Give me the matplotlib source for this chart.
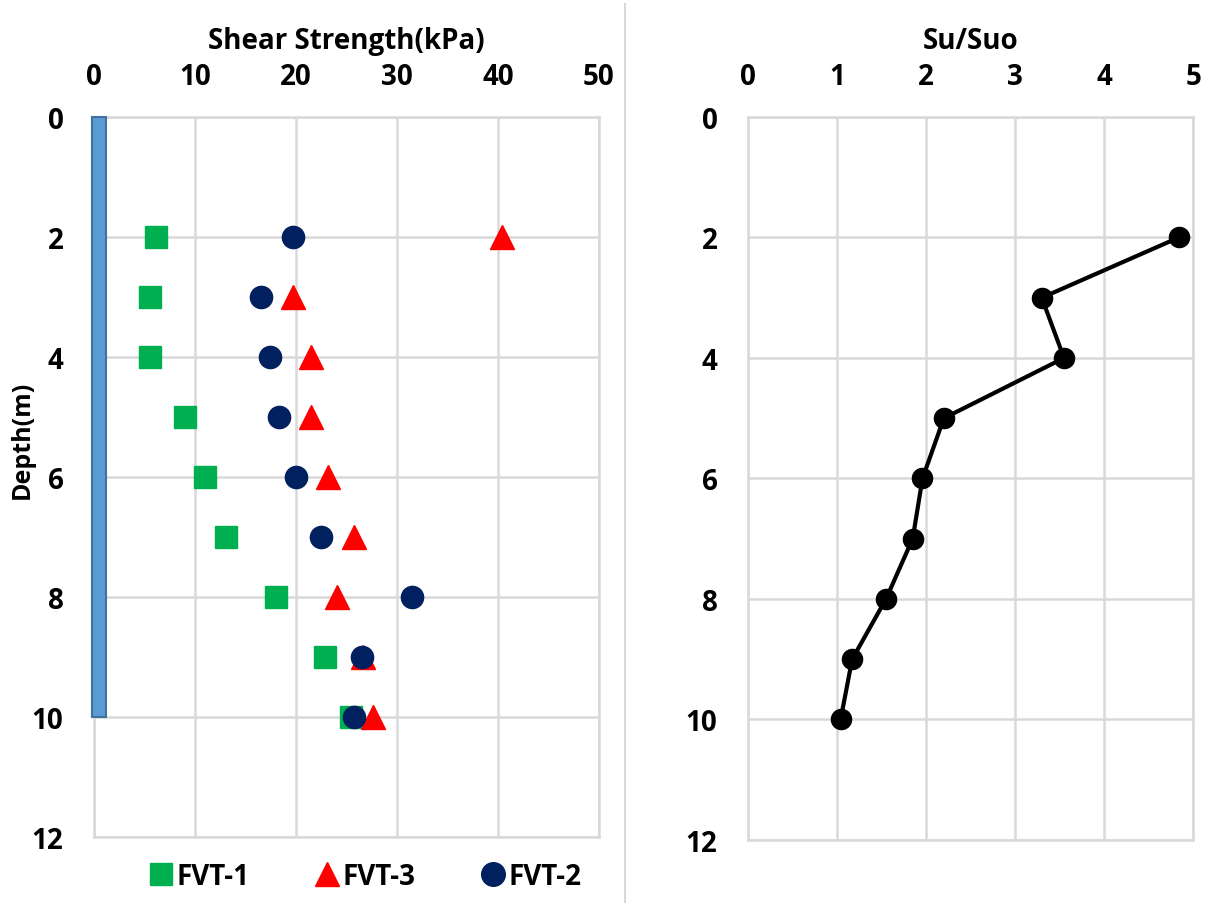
import numpy as np
import matplotlib
matplotlib.use('Agg')
import matplotlib.pyplot as plt
from matplotlib.patches import Rectangle
from matplotlib.lines import Line2D

plt.rcParams['font.family'] = ['Open Sans', 'DejaVu Sans']
plt.rcParams['font.weight'] = 'bold'

# depths of the field vane tests (m)
depth = [2, 3, 4, 5, 6, 7, 8, 9, 10]

# shear strength in kPa
fvt1 = [6.1, 5.5, 5.5, 9.0, 11.0, 13.1, 18.0, 22.9, 25.4]
fvt3 = [40.4, 19.7, 21.5, 21.5, 23.2, 25.7, 24.1, 26.6, 27.6]
fvt2 = [19.7, 16.5, 17.4, 18.3, 20.0, 22.5, 31.5, 26.5, 25.7]

# normalised strength Su/Suo
su_ratio = [4.84, 3.30, 3.55, 2.20, 1.96, 1.85, 1.55, 1.17, 1.04]

grid_col = '#d9d9d9'
fs = 20

fig = plt.figure(figsize=(12.11, 9.04), dpi=100)
ax1 = fig.add_axes([0.0776, 0.073, 0.417, 0.7965])
ax2 = fig.add_axes([0.6177, 0.0697, 0.3675, 0.7998])

def style_axis(ax, xmax, xstep, title):
    ax.set_xlim(0, xmax)
    ax.set_ylim(12, 0)
    ax.set_xticks(np.arange(0, xmax + xstep / 2, xstep))
    ax.set_yticks(np.arange(0, 13, 2))
    ax.xaxis.tick_top()
    ax.xaxis.set_label_position('top')
    ax.tick_params(length=0, labelsize=fs, pad=19)
    ax.tick_params(axis='y', pad=22)
    for lab in ax.get_xticklabels() + ax.get_yticklabels():
        lab.set_fontweight('bold')
    ax.grid(True, color=grid_col, linewidth=1.8)
    ax.set_axisbelow(True)
    for s in ax.spines.values():
        s.set_color(grid_col)
        s.set_linewidth(1.8)
    ax.set_xlabel(title, fontsize=fs, fontweight='bold', labelpad=10)

style_axis(ax1, 50, 10, 'Shear Strength(kPa)')
style_axis(ax2, 5, 1, 'Su/Suo')
ax1.set_ylabel('Depth(m)', fontsize=18, fontweight='bold')
ax1.yaxis.set_label_coords(-0.118, 0.553)

# vane rod / borehole bar
ax1.add_patch(Rectangle((-0.15, 0), 1.35, 10, facecolor='#5b9bd5',
                        edgecolor='#41719c', linewidth=1.5, zorder=3, clip_on=False))

ms = 16
ax1.plot(fvt1, depth, 's', color='#00b050', markersize=ms, linestyle='none', zorder=4)
ax1.plot(fvt3, depth, '^', color='#ff0000', markersize=ms + 1, linestyle='none', zorder=5)
ax1.plot(fvt2, depth, 'o', color='#002060', markersize=ms, linestyle='none', zorder=6)

handles = [
    Line2D([], [], marker='s', color='#00b050', linestyle='none', markersize=16),
    Line2D([], [], marker='^', color='#ff0000', linestyle='none', markersize=17),
    Line2D([], [], marker='o', color='#002060', linestyle='none', markersize=17),
]
leg = ax1.legend(handles, ['FVT-1', 'FVT-3', 'FVT-2'], ncol=3, frameon=False,
                 loc='upper center', bbox_to_anchor=(0.535, 0.0),
                 prop={'size': fs, 'weight': 'bold'},
                 handletextpad=0.05, columnspacing=2.3, handlelength=1.0)

ax2.plot(su_ratio, depth, '-o', color='black', linewidth=3, markersize=14.5, zorder=4)

# thin divider between the two panels
fig.add_artist(Line2D([0.516, 0.516], [0, 0.995], color=grid_col, linewidth=1.5))

fig.savefig('out.png', dpi=100)
